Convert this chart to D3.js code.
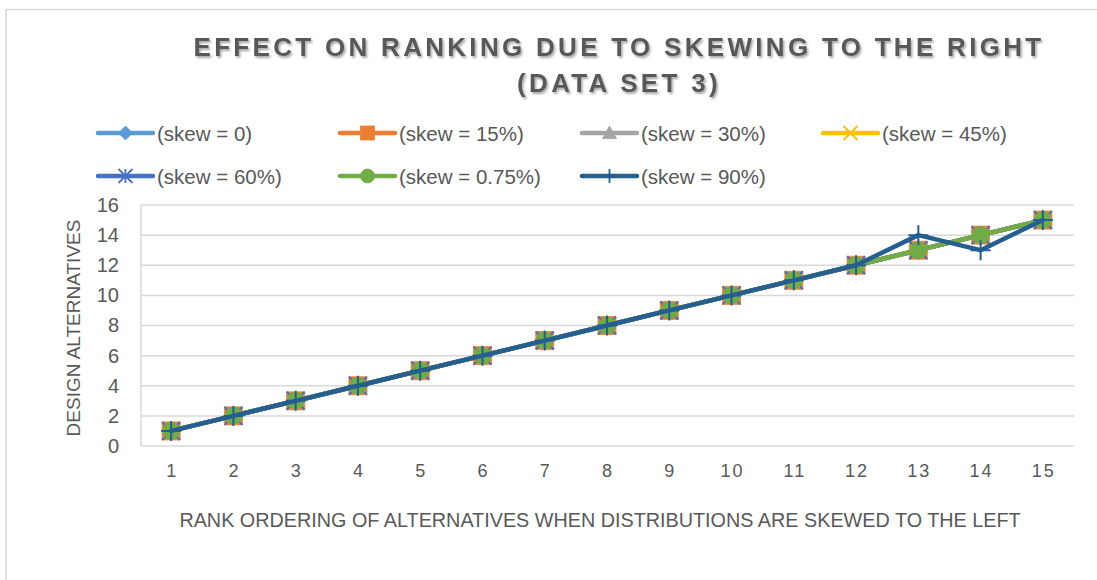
<!DOCTYPE html>
<html>
<head>
<meta charset="utf-8">
<script src="https://cdn.jsdelivr.net/npm/d3@7"></script>
<style>
  html, body { margin: 0; padding: 0; background: #fff; }
  svg { display: block; font-family: "Liberation Sans", Arial, sans-serif; }
</style>
</head>
<body>
<svg id="chart" width="1097" height="580"></svg>
<script>
// Rank positions on the x axis
const categories = [1, 2, 3, 4, 5, 6, 7, 8, 9, 10, 11, 12, 13, 14, 15];

// Design alternative held at each rank, per skew level
const skew0   = [1, 2, 3, 4, 5, 6, 7, 8, 9, 10, 11, 12, 13, 14, 15];
const skew15  = [1, 2, 3, 4, 5, 6, 7, 8, 9, 10, 11, 12, 13, 14, 15];
const skew30  = [1, 2, 3, 4, 5, 6, 7, 8, 9, 10, 11, 12, 13, 14, 15];
const skew45  = [1, 2, 3, 4, 5, 6, 7, 8, 9, 10, 11, 12, 13, 14, 15];
const skew60  = [1, 2, 3, 4, 5, 6, 7, 8, 9, 10, 11, 12, 13, 14, 15];
const skew075 = [1, 2, 3, 4, 5, 6, 7, 8, 9, 10, 11, 12, 13, 14, 15];
const skew90  = [1, 2, 3, 4, 5, 6, 7, 8, 9, 10, 11, 12, 14, 13, 15];

const seriesNames = ["(skew = 0)", "(skew = 15%)", "(skew = 30%)", "(skew = 45%)",
                     "(skew = 60%)", "(skew = 0.75%)", "(skew = 90%)"];
const yTicks = [0, 2, 4, 6, 8, 10, 12, 14, 16];

const seriesValues = [skew0, skew15, skew30, skew45, skew60, skew075, skew90];
const colors = ["#5B9BD5", "#ED7D31", "#A5A5A5", "#FFC000", "#4472C4", "#70AD47", "#255E91"];
const markerKinds = ["diamond", "square", "triangle", "x", "asterisk", "circle", "plus"];

const svg = d3.select("#chart");
const textColor = "#595959";

// drop shadow for the title
const defs = svg.append("defs");
const f = defs.append("filter").attr("id", "titleShadow")
  .attr("x", "-5%").attr("y", "-30%").attr("width", "110%").attr("height", "160%");
f.append("feDropShadow").attr("dx", 1.5).attr("dy", 2).attr("stdDeviation", 1.3)
  .attr("flood-color", "#000").attr("flood-opacity", 0.35);

// chart frame (top and left edges)
svg.append("line").attr("x1", 6).attr("x2", 1097).attr("y1", 9.5).attr("y2", 9.5)
  .attr("stroke", "#D9D9D9").attr("stroke-width", 1.5);
svg.append("line").attr("x1", 6).attr("x2", 6).attr("y1", 9.5).attr("y2", 580)
  .attr("stroke", "#D9D9D9").attr("stroke-width", 1.5);

// scales
const x = d3.scaleBand().domain(categories).range([140, 1074]);
const y = d3.scaleLinear().domain([0, 16]).range([446, 205]);
const cx = c => x(c) + x.bandwidth() / 2;

// gridlines
svg.append("g").selectAll("line").data(yTicks).join("line")
  .attr("x1", 141).attr("x2", 1074)
  .attr("y1", d => y(d)).attr("y2", d => y(d))
  .attr("stroke", "#D9D9D9").attr("stroke-width", 1.5);
svg.append("line").attr("x1", 141).attr("x2", 141).attr("y1", y(16)).attr("y2", y(0))
  .attr("stroke", "#D9D9D9").attr("stroke-width", 1.5);

// y axis labels
const yAxis = svg.append("g").attr("transform", "translate(119,0)")
  .call(d3.axisLeft(y).tickValues(yTicks).tickSize(0).tickPadding(0));
yAxis.select(".domain").remove();
yAxis.selectAll("text").attr("fill", textColor).style("font-size", "20px")
  .style("font-family", "Liberation Sans, Arial, sans-serif");

// x axis labels
const xAxis = svg.append("g").attr("transform", "translate(0,464)")
  .call(d3.axisBottom(x).tickSize(0).tickPadding(0));
xAxis.select(".domain").remove();
xAxis.selectAll("text").attr("fill", textColor).style("font-size", "18px")
  .style("letter-spacing", "2px")
  .style("font-family", "Liberation Sans, Arial, sans-serif")
  .attr("dx", 1);

// axis titles
svg.append("text").attr("x", 600).attr("y", 527).attr("text-anchor", "middle")
  .attr("fill", textColor).style("font-size", "19.8px")
  .text("RANK ORDERING OF ALTERNATIVES WHEN DISTRIBUTIONS ARE SKEWED TO THE LEFT");
svg.append("text").attr("transform", "translate(80,328) rotate(-90)")
  .attr("text-anchor", "middle").attr("fill", textColor).style("font-size", "19px")
  .text("DESIGN ALTERNATIVES");

// chart title
const title = svg.append("text").attr("text-anchor", "middle").attr("fill", textColor)
  .attr("filter", "url(#titleShadow)")
  .style("font-size", "26px").style("font-weight", "bold").style("letter-spacing", "3.3px");
title.append("tspan").attr("x", 619).attr("y", 56).text("EFFECT ON RANKING DUE TO SKEWING TO THE RIGHT");
title.append("tspan").attr("x", 619).attr("y", 92).text("(DATA SET 3)");

// marker shapes
function markerPath(kind, s) {
  const h = s / 2;
  switch (kind) {
    case "diamond": return `M0,${-h}L${h},0L0,${h}L${-h},0Z`;
    case "square": return `M${-h},${-h}H${h}V${h}H${-h}Z`;
    case "triangle": return `M0,${-h}L${h},${h * 0.8}H${-h}Z`;
    case "circle": return d3.arc()({innerRadius: 0, outerRadius: h, startAngle: 0, endAngle: 2 * Math.PI});
    case "x": return `M${-h},${-h}L${h},${h}M${-h},${h}L${h},${-h}`;
    case "asterisk": return `M${-h},${-h}L${h},${h}M${-h},${h}L${h},${-h}M0,${-h}V${h}`;
    case "plus": return `M${-h},0H${h}M0,${-h}V${h}`;
  }
}
const strokeMarker = k => k === "x" || k === "asterisk" || k === "plus";

const markerSize = [14, 18, 15, 14, 18, 17, 20];

const line = d3.line().x((d, i) => cx(categories[i])).y(d => y(d));

// series, each drawn with its markers so later series sit on top
seriesValues.forEach((vals, si) => {
  const g = svg.append("g");
  g.append("path").datum(vals).attr("d", line).attr("fill", "none")
    .attr("stroke", colors[si]).attr("stroke-width", 4.5)
    .attr("stroke-linejoin", "round").attr("stroke-linecap", "round");
  g.selectAll("path.m").data(vals).join("path").attr("class", "m")
    .attr("transform", (d, i) => `translate(${cx(categories[i])},${y(d)})`)
    .attr("d", markerPath(markerKinds[si], markerSize[si]))
    .attr("fill", strokeMarker(markerKinds[si]) ? "none" : colors[si])
    .attr("stroke", colors[si])
    .attr("stroke-width", strokeMarker(markerKinds[si]) ? 2 : 0.8);
});

// legend
const legendCols = [98, 340, 582, 823];
const legendRows = [133, 176];
seriesNames.forEach((name, i) => {
  const lx = legendCols[i % 4], ly = legendRows[Math.floor(i / 4)];
  const g = svg.append("g").attr("transform", `translate(${lx},${ly})`);
  g.append("line").attr("x1", 0).attr("x2", 55).attr("y1", 0).attr("y2", 0)
    .attr("stroke", colors[i]).attr("stroke-width", 4.5).attr("stroke-linecap", "round");
  const k = markerKinds[i];
  g.append("path").attr("transform", "translate(27.5,0)")
    .attr("d", markerPath(k, 14))
    .attr("fill", strokeMarker(k) ? "none" : colors[i])
    .attr("stroke", colors[i]).attr("stroke-width", strokeMarker(k) ? 1.8 : 0.8);
  g.append("text").attr("x", 59).attr("y", 7.5).attr("fill", textColor)
    .style("font-size", "20.5px").text(name);
});
</script>
</body>
</html>
